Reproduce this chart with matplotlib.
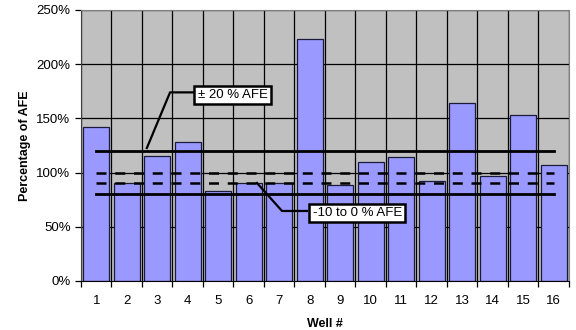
import numpy as np
import matplotlib.pyplot as plt

plt.rcParams['font.family'] = ['Liberation Sans', 'DejaVu Sans']

# Actual cost of each well as a percentage of its AFE
wells = list(range(1, 17))
pct_afe = [142, 90, 115, 128, 83, 90, 90, 223, 89, 110, 114, 92, 164, 97, 153, 107]

# Reference bands (percent of AFE)
band_20 = [80, 120]
band_10 = [90, 100]

y_ticks = [0, 50, 100, 150, 200, 250]

fig = plt.figure(figsize=(5.76, 3.3), dpi=100)
ax = fig.add_axes([0.1406, 0.1485, 0.8472, 0.8212])
ax.set_facecolor('#C0C0C0')

x = np.array(wells)
ax.bar(x, pct_afe, width=0.84, color='#9999FF', edgecolor='#1a1a3a',
       linewidth=0.9, zorder=2)

# Gridlines at category boundaries and 50 % steps
for b in np.arange(0.5, 17, 1.0):
    ax.axvline(b, color='black', lw=0.9, zorder=1)
for t in y_ticks[1:]:
    ax.axhline(t, color='black', lw=0.9, zorder=1)

# +/-20 % band (solid) and -10..0 % band (dashed), drawn well 1 to well 16
for v in band_20:
    ax.plot([wells[0], wells[-1]], [v, v], color='black', lw=2, zorder=3)
for v in band_10:
    ax.plot([wells[0], wells[-1]], [v, v], color='black', lw=1.8,
            dashes=(4, 3.5), zorder=3)

ax.set_xlim(0.5, 16.5)
ax.set_ylim(0, 250)
ax.set_xticks(np.arange(0.5, 17, 1.0))
ax.set_xticklabels([])
ax.set_xticks(x, minor=True)
ax.set_xticklabels([str(w) for w in wells], minor=True, fontsize=9.5)
ax.tick_params(axis='x', which='major', length=4, width=0.9, direction='out')
ax.tick_params(axis='x', which='minor', length=0, pad=10)
ax.set_yticks(y_ticks)
ax.set_yticklabels([f'{t}%' for t in y_ticks], fontsize=9.5)
ax.tick_params(axis='y', length=4, width=0.9, direction='out')

for s in ['top', 'right']:
    ax.spines[s].set_color('#808080')
ax.spines['left'].set_color('#404040')
ax.spines['bottom'].set_color('black')

ax.set_xlabel('Well #', fontsize=9, fontweight='bold', labelpad=8)
ax.set_ylabel('Percentage of AFE', fontsize=9, fontweight='bold', labelpad=4)

# Callouts with leader lines
ax.plot([2.66, 3.42, 4.17], [122.7, 174, 174], color='black', lw=1.6, zorder=4)
ax.text(4.33, 171.6, '\u00b1 20 % AFE', fontsize=9.5, ha='left', va='center',
        zorder=5, bbox=dict(boxstyle='square,pad=0.25', fc='white',
                            ec='black', lw=1.8))
ax.plot([6.27, 7.09, 7.91], [90.4, 64.6, 64.6], color='black', lw=1.6, zorder=4)
ax.text(8.1, 62.7, '-10 to 0 % AFE', fontsize=9.5, ha='left', va='center',
        zorder=5, bbox=dict(boxstyle='square,pad=0.25', fc='white',
                            ec='black', lw=1.8))

fig.savefig('out.png', dpi=100)
